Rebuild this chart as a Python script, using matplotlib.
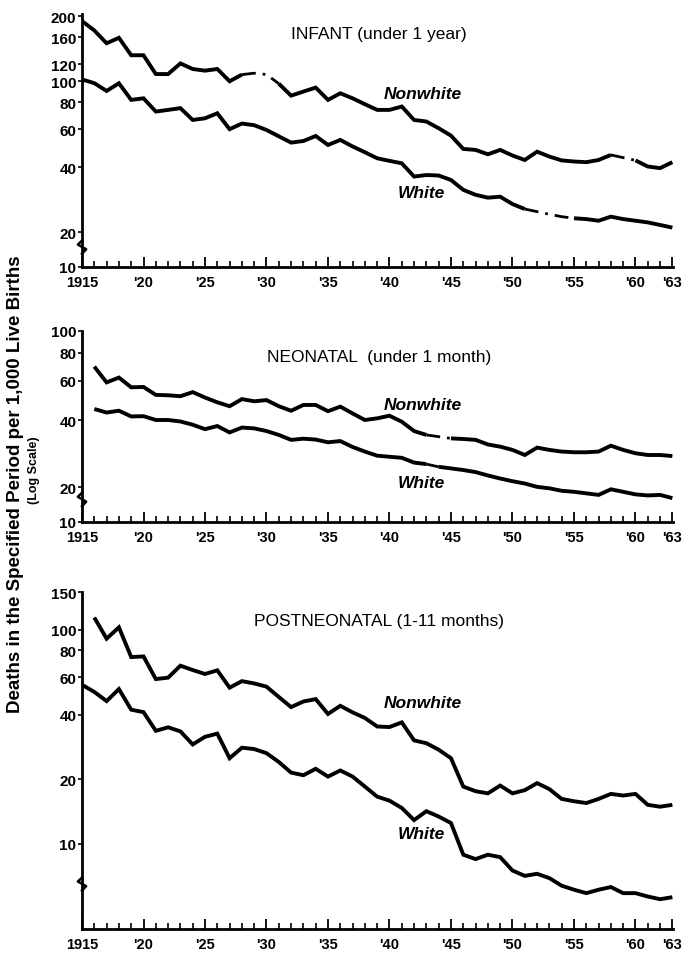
import numpy as np
import matplotlib

matplotlib.use("Agg")
import matplotlib.pyplot as plt  # noqa: E402

plt.rcParams["font.family"] = ["Liberation Sans", "DejaVu Sans"]

# years covered by each series (some start in 1916)
years_from_1915 = np.arange(1915, 1964)
years_from_1916 = np.arange(1916, 1964)

# deaths per 1,000 live births
infant_nonwhite = [190, 172, 150, 159, 132, 132, 108, 108, 121, 114,
                   112, 114, 100, 107.4, 109, 107.5, 97.5, 85.8, 89.6, 93.5,
                   82, 88, 83.4, 78.3, 73.7, 73.7, 76.4, 66.2, 65.1, 60.6,
                   56, 48.6, 48.1, 45.9, 48.1, 45.3, 43.2, 47.2, 44.8, 43,
                   42.5, 42.2, 43.2, 45.6, 44.3, 43, 40.3, 39.6, 42.2]
infant_white = [102, 98, 90.2, 97.9, 82, 83.4, 72.4, 73.7, 75.1, 66.2,
                67.4, 71.1, 60, 63.7, 62.6, 59.5, 55.6, 52, 52.9, 55.8,
                50.7, 53.5, 49.9, 46.9, 44, 42.8, 41.7, 36.2, 36.8, 36.6,
                34.9, 31.4, 29.8, 28.9, 29.2, 27, 25.6, 24.9, 24.2, 23.6,
                23.2, 23, 22.6, 23.6, 23, 22.6, 22.2, 21.6, 21]

neonatal_nonwhite = [69.3, 58.9, 61.9, 56, 56.2, 51.8, 51.6, 51.1, 53.3, 50.4,
                     48, 46.1, 49.6, 48.5, 49.1, 46.1, 44, 46.7, 46.7, 43.8,
                     45.9, 42.8, 40, 40.7, 41.8, 39.3, 35.7, 34.3, 33.7, 33.1,
                     32.9, 32.6, 31.1, 30.4, 29.4, 27.9, 30.1, 29.4, 28.9, 28.7,
                     28.7, 28.9, 30.7, 29.4, 28.4, 27.9, 27.9, 27.6]
neonatal_white = [44.8, 43.2, 44, 41.5, 41.6, 40, 40, 39.4, 38.1, 36.4,
                  37.6, 35.2, 37, 36.7, 35.7, 34.3, 32.6, 33, 32.7, 31.8,
                  32.2, 30.3, 28.9, 27.7, 27.4, 27.1, 25.8, 25.4, 24.7, 24.3,
                  23.9, 23.4, 22.6, 21.9, 21.3, 20.8, 20.1, 19.8, 19.3, 19.1,
                  18.8, 18.5, 19.6, 19.1, 18.6, 18.4, 18.5, 17.9]

postneonatal_nonwhite = [114, 90.8, 102.6, 74.5, 75, 58.8, 59.7, 67.9, 64.8, 62.1,
                         64.6, 53.6, 57.5, 56.1, 54.2, 48.5, 43.5, 46.2, 47.4, 40.4,
                         44.1, 41.1, 38.7, 35.3, 35.1, 36.9, 30.4, 29.5, 27.5, 25.1,
                         18.5, 17.6, 17.2, 18.7, 17.2, 17.8, 19.2, 18, 16.2, 15.8,
                         15.5, 16.2, 17.1, 16.8, 17.1, 15.2, 14.9, 15.2]
postneonatal_white = [55.3, 51.2, 46.4, 52.8, 42.3, 41.2, 33.7, 35, 33.5, 29.1,
                      31.6, 32.7, 25.1, 28.1, 27.7, 26.5, 24.1, 21.5, 20.9, 22.4,
                      20.6, 22, 20.6, 18.5, 16.6, 15.9, 14.7, 12.9, 14.2, 13.4,
                      12.5, 8.89, 8.48, 8.89, 8.66, 7.5, 7.08, 7.24, 6.91, 6.37,
                      6.1, 5.88, 6.1, 6.28, 5.88, 5.88, 5.67, 5.51, 5.63]

x_ticks = [1915, 1920, 1925, 1930, 1935, 1940, 1945, 1950, 1955, 1960, 1963]
x_labels = ["1915", "'20", "'25", "'30", "'35", "'40", "'45", "'50", "'55", "'60", "'63"]

panel_titles = ["INFANT (under 1 year)", "NEONATAL  (under 1 month)",
                "POSTNEONATAL (1-11 months)"]
infant_ticks = [13.8, 20, 40, 60, 80, 100, 120, 160, 200]
infant_tick_labels = ["10", "20", "40", "60", "80", "100", "120", "160", "200"]
neonatal_ticks = [14, 20, 40, 60, 80, 100]
neonatal_tick_labels = ["10", "20", "40", "60", "80", "100"]
post_ticks = [10, 20, 40, 60, 80, 100, 150]
post_tick_labels = ["10", "20", "40", "60", "80", "100", "150"]


def draw_series(ax, years, values, faded=()):
    years = np.asarray(years, float)
    values = np.asarray(values, float)
    edges = [years[0]] + [v for pair in faded for v in pair] + [years[-1]]
    for i in range(len(edges) - 1):
        sel = (years >= edges[i]) & (years <= edges[i + 1])
        if i % 2 == 0:
            ax.plot(years[sel], values[sel], color="black", lw=2.8,
                    solid_joinstyle="miter", solid_capstyle="butt")
        else:
            ax.plot(years[sel], values[sel], color="black", lw=2.0,
                    linestyle=(0, (5, 2.5, 1, 2.5)))


def style_axis(ax, ylim, ticks, labels, break_at):
    ax.set_yscale("log")
    ax.set_xlim(1915, 1963.05)
    ax.set_ylim(*ylim)
    for side in ("top", "right"):
        ax.spines[side].set_visible(False)
    for side in ("left", "bottom"):
        ax.spines[side].set_linewidth(2.0)
    ax.set_yticks(ticks)
    ax.set_yticklabels(labels, fontsize=11, fontweight="bold")
    ax.yaxis.set_minor_locator(matplotlib.ticker.NullLocator())
    ax.tick_params(axis="y", direction="out", length=3, width=1.2, pad=1)
    ax.set_xticks(x_ticks)
    ax.set_xticklabels(x_labels, fontsize=10.5, fontweight="bold")
    ax.set_xticks(np.arange(1915, 1964), minor=True)
    ax.tick_params(axis="x", which="major", direction="in", length=7, width=1.3, pad=6)
    ax.tick_params(axis="x", which="minor", direction="in", length=4.5, width=1.2)
    # little break mark on the value axis
    tr = ax.get_yaxis_transform()
    ax.plot([0, -0.007, 0.007, 0], [break_at * 1.07, break_at * 1.025,
                                     break_at * 0.975, break_at * 0.93],
            color="black", lw=1.8, transform=tr, clip_on=False)


def label_lines(ax, title, nonwhite_y, white_y, title_y):
    ax.text(0.503, title_y, title, transform=ax.transAxes, ha="center",
            va="center", fontsize=12.5)
    ax.text(0.577, nonwhite_y, "Nonwhite", transform=ax.transAxes, ha="center",
            va="center", fontsize=12.5, fontstyle="italic", fontweight="bold")
    ax.text(0.575, white_y, "White", transform=ax.transAxes, ha="center",
            va="center", fontsize=12.5, fontstyle="italic", fontweight="bold")


fig = plt.figure(figsize=(6.84, 9.54), dpi=100)
ax1 = fig.add_axes([0.1199, 0.7191, 0.864, 0.2652])
ax2 = fig.add_axes([0.1199, 0.4518, 0.864, 0.2002])
ax3 = fig.add_axes([0.1199, 0.0252, 0.864, 0.3532])

draw_series(ax1, years_from_1915, infant_nonwhite, faded=[(1928, 1931), (1958, 1960)])
draw_series(ax1, years_from_1915, infant_white, faded=[(1951, 1955)])
style_axis(ax1, (13.8, 205), infant_ticks, infant_tick_labels, 17.1)
label_lines(ax1, panel_titles[0], 0.684, 0.296, 0.921)

draw_series(ax2, years_from_1916, neonatal_nonwhite, faded=[(1943, 1945)])
draw_series(ax2, years_from_1916, neonatal_white, faded=[(1943, 1944)])
style_axis(ax2, (14, 100), neonatal_ticks, neonatal_tick_labels, 17.7)
label_lines(ax2, panel_titles[1], 0.613, 0.209, 0.869)

draw_series(ax3, years_from_1916, postneonatal_nonwhite)
draw_series(ax3, years_from_1915, postneonatal_white)
style_axis(ax3, (4, 150), post_ticks, post_tick_labels, 6.5)
label_lines(ax3, panel_titles[2], 0.671, 0.282, 0.914)

fig.text(0.022, 0.492, "Deaths in the Specified Period per 1,000 Live Births",
         rotation=90, ha="center", va="center", fontsize=13.5, fontweight="bold")
fig.text(0.049, 0.507, "(Log Scale)", rotation=90, ha="center", va="center",
         fontsize=9, fontweight="bold")

fig.savefig("out.png", dpi=100)
plt.close(fig)
